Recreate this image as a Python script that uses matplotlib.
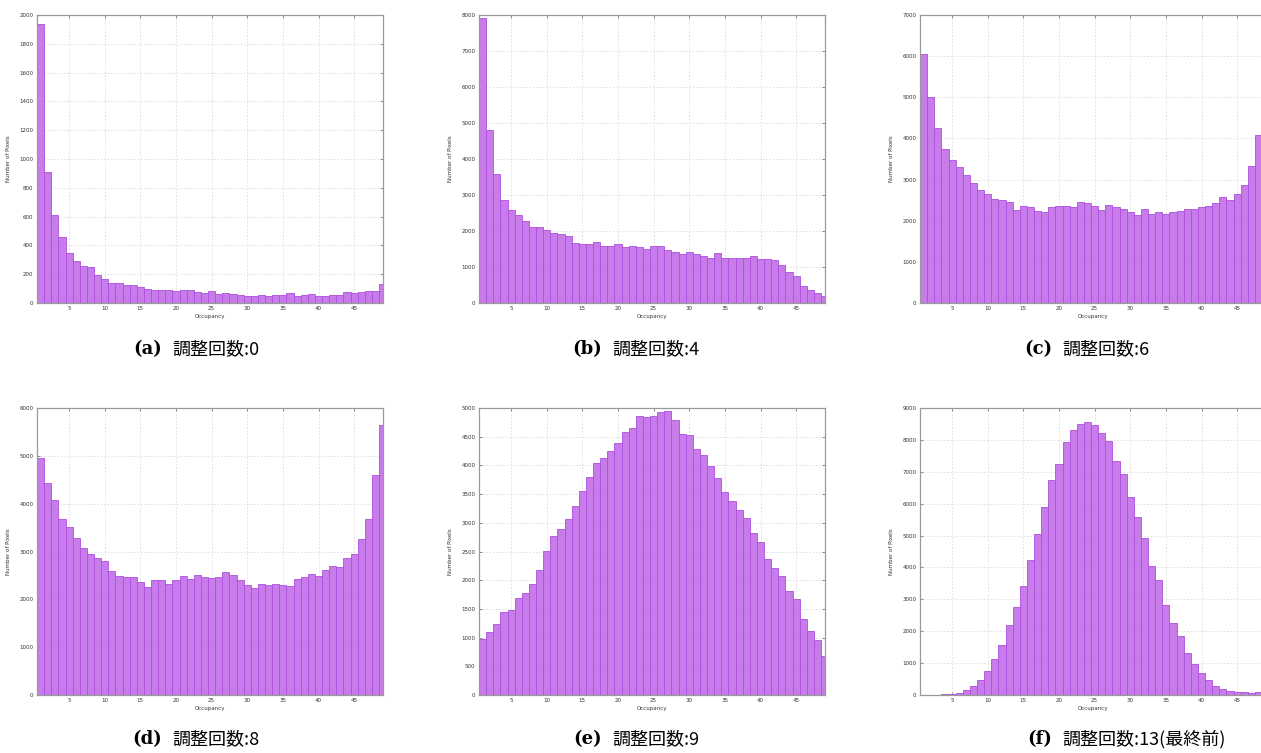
import matplotlib
matplotlib.use('Agg')
import matplotlib.pyplot as plt
import numpy as np

plt.rcParams['font.family'] = ['DejaVu Sans', 'Noto Sans CJK JP']

occupancy = np.arange(1, 50)

# pixel counts per occupancy bin, one list per adjustment step
counts_0 = [1935, 907, 609, 458, 345, 289, 255, 250, 194, 164,
            137, 137, 123, 123, 111, 97, 93, 93, 88, 83,
            88, 88, 74, 67, 81, 62, 67, 62, 53, 46,
            51, 55, 51, 53, 55, 67, 46, 53, 60, 49,
            49, 55, 55, 74, 72, 76, 83, 83, 132]
counts_4 = [7907, 4796, 3583, 2870, 2574, 2435, 2278, 2102, 2102, 2028,
            1944, 1907, 1852, 1667, 1648, 1630, 1685, 1593, 1574, 1630,
            1546, 1574, 1565, 1491, 1574, 1574, 1472, 1417, 1361, 1407,
            1352, 1296, 1250, 1380, 1250, 1250, 1241, 1241, 1296, 1222,
            1213, 1185, 1056, 852, 741, 481, 352, 287, 185]
counts_6 = [6044, 5015, 4245, 3735, 3468, 3305, 3103, 2909, 2738, 2641,
            2520, 2503, 2447, 2252, 2350, 2325, 2228, 2204, 2325, 2350,
            2350, 2325, 2447, 2422, 2366, 2260, 2374, 2325, 2293, 2204,
            2131, 2277, 2155, 2204, 2171, 2204, 2236, 2277, 2277, 2325,
            2350, 2422, 2568, 2495, 2641, 2860, 3338, 4075, 5339]
counts_8 = [4947, 4430, 4081, 3677, 3502, 3279, 3070, 2944, 2874, 2805,
            2602, 2484, 2463, 2463, 2372, 2267, 2400, 2400, 2330, 2400,
            2484, 2421, 2505, 2463, 2442, 2470, 2567, 2519, 2414, 2309,
            2233, 2316, 2295, 2316, 2295, 2274, 2421, 2463, 2526, 2498,
            2609, 2693, 2672, 2854, 2944, 3258, 3677, 4598, 5644]
counts_9 = [983, 1093, 1244, 1442, 1488, 1686, 1785, 1942, 2174, 2512,
            2762, 2884, 3064, 3297, 3552, 3797, 4035, 4128, 4244, 4395,
            4581, 4651, 4860, 4843, 4860, 4930, 4953, 4791, 4547, 4523,
            4291, 4186, 3988, 3779, 3529, 3372, 3221, 3076, 2826, 2669,
            2366, 2209, 2081, 1808, 1674, 1320, 1122, 953, 680]
counts_13 = [5, 10, 15, 25, 30, 60, 160, 283, 471, 743,
             1130, 1570, 2187, 2763, 3422, 4238, 5044, 5892, 6750, 7252,
             7932, 8298, 8487, 8560, 8466, 8215, 7974, 7346, 6938, 6216,
             5567, 4918, 4039, 3600, 2825, 2250, 1852, 1308, 984, 680,
             471, 272, 178, 126, 84, 84, 73, 94, 115]

panel_letters = ['(a)', '(b)', '(c)', '(d)', '(e)', '(f)']
panel_captions = ['調整回数:0', '調整回数:4', '調整回数:6',
                  '調整回数:8', '調整回数:9', '調整回数:13(最終前)']
panel_counts = [counts_0, counts_4, counts_6, counts_8, counts_9, counts_13]
y_max = [2000, 8000, 7000, 6000, 5000, 9000]
y_step = [200, 1000, 1000, 1000, 500, 1000]

W, H = 1261, 753
fig = plt.figure(figsize=(W / 100, H / 100), dpi=100)

col_left = [37, 479, 920]
row_top = [15, 408]
row_bottom = [303, 695]
ax_w = 346
caption_x = [200, 640, 1090]
caption_y = [349, 739]

bar_face = '#c87ce9'
bar_edge = '#ad4ee0'

for i in range(6):
    r, c = divmod(i, 3)
    left = col_left[c] / W
    bottom = 1 - row_bottom[r] / H
    height = (row_bottom[r] - row_top[r]) / H
    ax = fig.add_axes([left, bottom, ax_w / W, height])
    ax.bar(occupancy, panel_counts[i], width=1.0, color=bar_face,
           edgecolor=bar_edge, linewidth=0.6, zorder=2)
    ax.set_xlim(0.5, 49.05)
    ax.set_ylim(0, y_max[i])
    ax.set_xticks(np.arange(5, 50, 5))
    ax.set_yticks(np.arange(0, y_max[i] + 1, y_step[i]))
    ax.tick_params(direction='in', top=True, right=True, length=2.5,
                   width=0.6, color='#777777', labelsize=4,
                   labelcolor='#333333', pad=2.5)
    ax.grid(True, color='#dcdcdc', linestyle=(0, (2, 2)), linewidth=0.6,
            zorder=0)
    ax.set_axisbelow(True)
    for s in ax.spines.values():
        s.set_color('#999999')
        s.set_linewidth(0.9)
    ax.set_xlabel('Occupancy', fontsize=4, color='#333333', labelpad=2)
    ax.set_ylabel('Number of Pixels', fontsize=4, color='#333333',
                  labelpad=6)

    # caption: bold serif letter followed by the Japanese description
    cx = caption_x[c] / W
    cy = 1 - caption_y[r] / H
    fig.text(cx - 0.03, cy, panel_letters[i], fontsize=13,
             fontweight='bold', family=['DejaVu Serif'],
             ha='right', va='center')
    fig.text(cx - 0.022, cy, panel_captions[i], fontsize=13,
             family=['Noto Sans CJK JP', 'DejaVu Sans'],
             ha='left', va='center')

fig.savefig('out.png', dpi=100)
